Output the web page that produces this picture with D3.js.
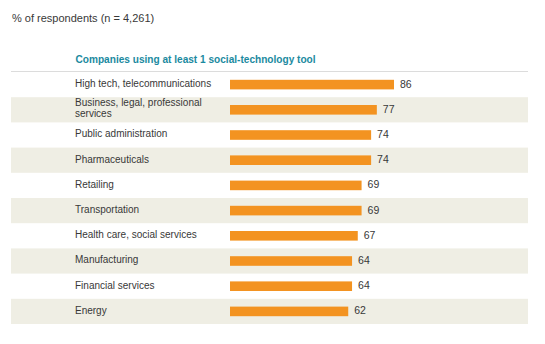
<!DOCTYPE html>
<html>
<head>
<meta charset="utf-8">
<script src="https://cdn.jsdelivr.net/npm/d3@7"></script>
<style>
  body { margin: 0; background: #fff; }
  svg { font-family: "Liberation Sans", Arial, sans-serif; }
</style>
</head>
<body>
<svg id="chart" width="545" height="344"></svg>
<script>
// industries and share of companies using social tools
var industries = ["High tech, telecommunications", "Business, legal, professional\nservices",
  "Public administration", "Pharmaceuticals", "Retailing", "Transportation",
  "Health care, social services", "Manufacturing", "Financial services", "Energy"];
var shares = [86, 77, 74, 74, 69, 69, 67, 64, 64, 62];

var svg = d3.select("#chart");

var x = d3.scaleLinear().domain([0, 100]).range([230, 420.7]);
var y = d3.scaleBand().domain(d3.range(industries.length)).range([72, 324]);

// subtitle + title
svg.append("text").attr("x", 12).attr("y", 22)
   .attr("font-size", "11px").attr("fill", "#383838")
   .text("% of respondents (n = 4,261)");

svg.append("text").attr("x", 75.5).attr("y", 62.5)
   .attr("font-size", "10.1px").attr("font-weight", "bold").attr("fill", "#1b8aa0")
   .text("Companies using at least 1 social-technology tool");

svg.append("line").attr("x1", 11).attr("x2", 528).attr("y1", 71.5).attr("y2", 71.5)
   .attr("stroke", "#dcdcdc").attr("stroke-width", 1);

var rows = svg.selectAll(".row").data(industries).enter()
   .append("g").attr("class", "row")
   .attr("transform", function (d, i) { return "translate(0," + y(i) + ")"; });

// alternating shaded bands
rows.filter(function (d, i) { return i % 2 == 1; })
   .append("rect").attr("x", 11).attr("width", 517)
   .attr("height", y.bandwidth()).attr("fill", "#efeee4");

rows.append("text").attr("font-size", "10px").attr("fill", "#383838")
   .each(function (d) {
     var lines = d.split("\n");
     var t = d3.select(this);
     var y0 = y.bandwidth() / 2 + 2.5 - (lines.length - 1) * 6;
     lines.forEach(function (l, k) {
       t.append("tspan").attr("x", 75).attr("y", y0 + k * 11).text(l);
     });
   });

rows.append("rect")
   .attr("x", x(0)).attr("y", y.bandwidth() / 2 - 4.8)
   .attr("width", function (d, i) { return x(shares[i]) - x(0); })
   .attr("height", 9.6).attr("fill", "#f39321");

rows.append("text")
   .attr("x", function (d, i) { return x(shares[i]) + 6; })
   .attr("y", y.bandwidth() / 2 + 3)
   .attr("font-size", "10.5px").attr("fill", "#383838")
   .text(function (d, i) { return shares[i]; });
</script>
</body>
</html>
